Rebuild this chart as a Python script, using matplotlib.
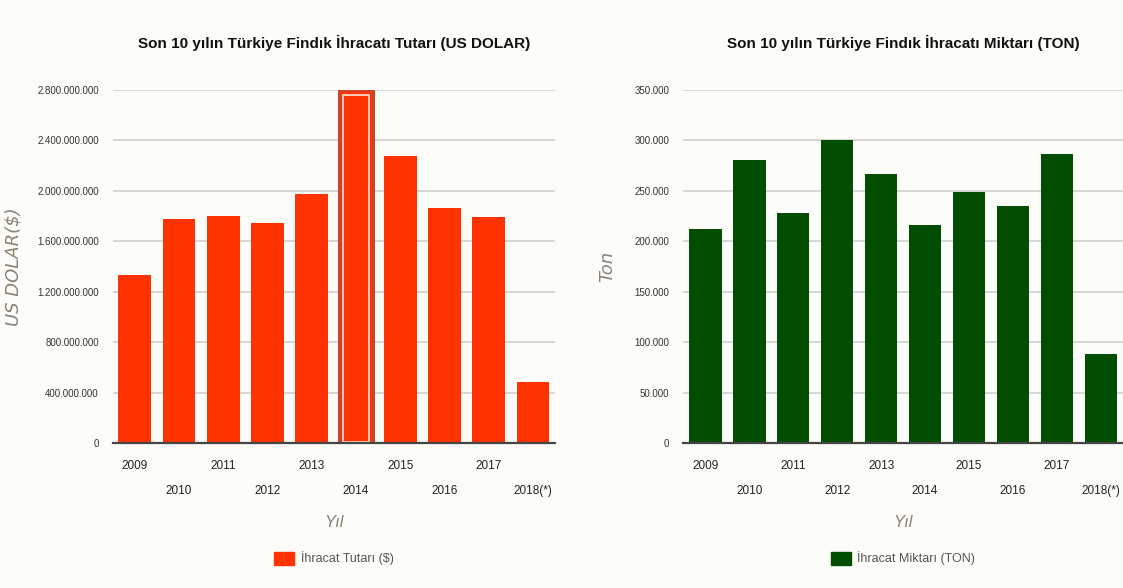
import matplotlib.pyplot as plt
from matplotlib.patches import Rectangle
from matplotlib.ticker import FuncFormatter


# ============================================================
# DATA
# ============================================================

YEARS = ['2009', '2010', '2011', '2012', '2013', '2014', '2015', '2016', '2017', '2018(*)']

EXPORT_USD = [1334e6, 1775e6, 1804e6, 1744e6, 1976e6, 2790e6, 2275e6, 1867e6, 1791e6, 488e6]
EXPORT_TON = [212.0e3, 280.7e3, 227.9e3, 300.2e3, 266.5e3, 216.0e3, 249.3e3, 235.4e3, 286.6e3, 88.8e3]

USD_TICKS = [0, 400e6, 800e6, 1200e6, 1600e6, 2000e6, 2400e6, 2800e6]
TON_TICKS = [0, 50e3, 100e3, 150e3, 200e3, 250e3, 300e3, 350e3]

HIGHLIGHT = '2014'


# ============================================================
# SETTINGS
# ============================================================

BG = '#fcfcf8'
RED = '#ff3300'
GREEN = '#034d03'
GRID = '#d3d3d3'
LABEL_GRAY = '#8a8274'

plt.rcParams['font.family'] = ['Liberation Sans Narrow', 'Liberation Sans', 'DejaVu Sans']


def dotted(v, _pos=None):
    return f'{int(round(v)):,}'.replace(',', '.')


def draw_panel(fig, rect, values, ticks, color, title, ylabel, legend_label,
               ylabel_x, highlight=None):
    ax = fig.add_axes(rect)
    ax.set_facecolor(BG)

    x = list(range(len(YEARS)))
    ax.bar(x, values, width=0.74, color=color, zorder=2)

    if highlight is not None:
        i = YEARS.index(highlight)
        v = values[i]
        ax.add_patch(Rectangle((i - 0.39, 0), 0.78, v * 1.003,
                               facecolor='none', edgecolor='#c8462c',
                               lw=2.2, zorder=3))
        ax.add_patch(Rectangle((i - 0.30, v * 0.005), 0.60, v * 0.985,
                               facecolor='none', edgecolor='#ffd8cc',
                               lw=1.3, zorder=4))

    ax.set_xlim(-0.5, len(YEARS) - 0.5)
    ax.set_ylim(0, ticks[-1])
    ax.set_yticks(ticks)
    ax.yaxis.set_major_formatter(FuncFormatter(dotted))
    ax.tick_params(axis='y', length=0, pad=10, labelsize=7, labelcolor='#333333')
    ax.tick_params(axis='x', length=0)
    ax.set_xticks([])

    ax.grid(axis='y', color=GRID, lw=1.3, zorder=0)
    ax.set_axisbelow(True)
    for side in ['top', 'right', 'left']:
        ax.spines[side].set_visible(False)
    ax.spines['bottom'].set_color('#444444')
    ax.spines['bottom'].set_linewidth(1.6)
    ax.spines['bottom'].set_zorder(5)

    # staggered year labels
    for i, yr in enumerate(YEARS):
        off = -16 if i % 2 == 0 else -34
        ax.annotate(yr, (i, 0), xycoords=('data', 'axes fraction'),
                    xytext=(0, off), textcoords='offset points',
                    ha='center', va='center', fontsize=8.5, color='#222222')

    ax.text(0.5, -0.224, 'Yıl', transform=ax.transAxes, ha='center', va='center',
            fontsize=12, style='italic', color=LABEL_GRAY)

    ax.set_ylabel(ylabel, fontsize=13, style='italic', color=LABEL_GRAY,
                  family=['DejaVu Sans'])
    ax.yaxis.set_label_coords(ylabel_x, 0.5)

    ax.set_title(title, fontsize=11, fontweight='bold', color='#111111',
                 loc='center', pad=30)

    # legend
    ax.legend(handles=[Rectangle((0, 0), 1, 1, color=color)],
              labels=[legend_label], loc='center', bbox_to_anchor=(0.5, -0.326),
              frameon=False, handlelength=1.6, handleheight=1.2, handletextpad=0.5,
              fontsize=9, labelcolor='#555555')
    return ax


fig = plt.figure(figsize=(11.23, 5.88), dpi=100)
fig.patch.set_facecolor(BG)

draw_panel(fig, [0.1004, 0.2461, 0.3939, 0.6008], EXPORT_USD, USD_TICKS, RED,
           'Son 10 yılın Türkiye Findık İhracatı Tutarı (US DOLAR)',
           'US DOLAR($)', 'İhracat Tutarı ($)', -0.205, highlight=HIGHLIGHT)

draw_panel(fig, [0.6085, 0.2461, 0.3913, 0.6008], EXPORT_TON, TON_TICKS, GREEN,
           'Son 10 yılın Türkiye Findık İhracatı Miktarı (TON)',
           'Ton', 'İhracat Miktarı (TON)', -0.153)

fig.savefig('out.png', dpi=100, facecolor=BG)
